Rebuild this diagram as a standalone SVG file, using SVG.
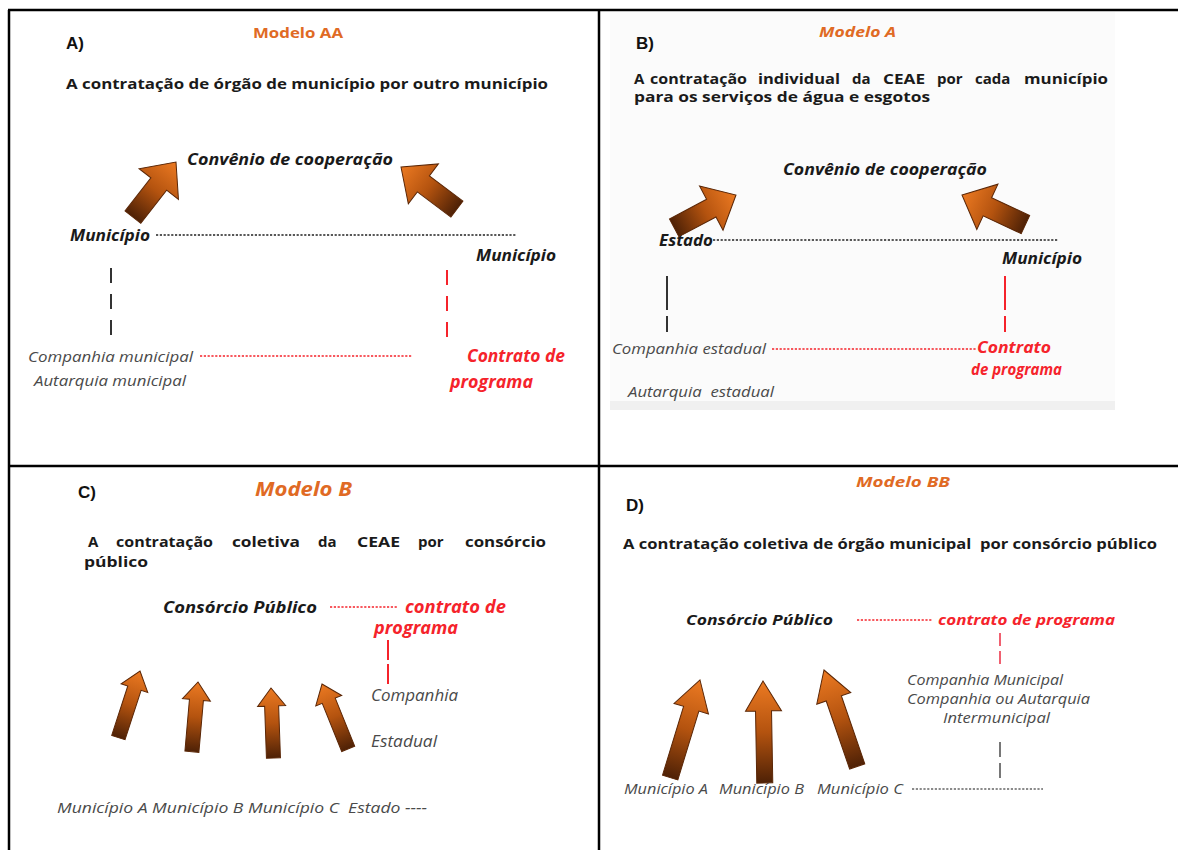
<svg xmlns="http://www.w3.org/2000/svg" xmlns:xlink="http://www.w3.org/1999/xlink" width="1178" height="850" viewBox="0 0 1178 850">
<defs>
<linearGradient id="ag" x1="0" y1="0" x2="0" y2="1">
<stop offset="0" stop-color="#ec7a22"/>
<stop offset="0.5" stop-color="#b4530f"/>
<stop offset="1" stop-color="#4e2106"/>
</linearGradient>
<path id="arrBig" d="M0,0 L25,28 L10,28 L10,70 L-10,70 L-10,28 L-25,28 Z"/>
<path id="arrC" d="M0,0 L14,18 L7,18 L7,70 L-7,70 L-7,18 L-14,18 Z"/>
<path id="arrD" d="M0,0 L18,30 L8,30 L8,102 L-8,102 L-8,30 L-18,30 Z"/>
</defs>
<style>
text{font-family:"Open Sans","DejaVu Sans",sans-serif}
.arr{fill:url(#ag);stroke:#5a2606;stroke-width:1}
.lbl{font-family:"Liberation Sans",Arial,sans-serif;font-weight:bold;fill:#111;font-size:17px}
.ttl{font-weight:bold;fill:#1a1a1a}
.mod{font-weight:bold;font-style:italic;fill:#e06a24}
.bi{font-weight:bold;font-style:italic;fill:#1a1a1a}
.gi{font-style:italic;fill:#4a4a4a}
.ri{font-weight:bold;font-style:italic;fill:#f5232b}
.dotk{stroke:#222;stroke-width:1.6;stroke-dasharray:2.2 1.6;fill:none}
.dotr{stroke:#f5232b;stroke-width:1.6;stroke-dasharray:2.2 1.6;fill:none}
.dotg{stroke:#666;stroke-width:1.4;stroke-dasharray:2.2 1.6;fill:none}
.vk{stroke:#333;stroke-width:2;fill:none}
.vr{stroke:#f5232b;stroke-width:2;fill:none}
.vg{stroke:#777;stroke-width:2;fill:none}
.frame{stroke:#000;stroke-width:2.5;fill:none}
</style>
<rect width="1178" height="850" fill="#fff"/>
<rect x="610" y="12" width="505" height="398" fill="#fbfbfb"/>
<rect x="610" y="401" width="505" height="9" fill="#f0f0f0"/>
<g id="frame">
<line class="frame" x1="8" y1="10" x2="1178" y2="10"/>
<line class="frame" x1="9" y1="10" x2="9" y2="850"/>
<line class="frame" x1="599" y1="10" x2="599" y2="850"/>
<line class="frame" x1="8" y1="466" x2="1178" y2="466"/>
</g>

<!-- Panel A -->
<g id="panelA-head">
<text class="lbl" x="66" y="49">A)</text>
<text class="mod" x="253" y="38" style="font-size:15px;font-style:normal" textLength="90" lengthAdjust="spacingAndGlyphs">Modelo AA</text>
<text class="ttl" x="66" y="89" style="font-size:15px" textLength="482" lengthAdjust="spacingAndGlyphs">A contratação de órgão de município por outro município</text>
</g>
<g id="A-convenio"><text class="bi" x="187" y="165" style="font-size:16px" textLength="206" lengthAdjust="spacingAndGlyphs">Convênio de cooperação</text></g>
<g id="A-municipio1"><text class="bi" x="70" y="241" style="font-size:16px" textLength="80" lengthAdjust="spacingAndGlyphs">Município</text></g>
<g id="A-municipio2"><text class="bi" x="476" y="261" style="font-size:16px" textLength="80" lengthAdjust="spacingAndGlyphs">Município</text></g>
<g id="A-companhia"><text class="gi" x="28" y="362" style="font-size:15px" textLength="165" lengthAdjust="spacingAndGlyphs">Companhia municipal</text>
<text class="gi" x="34" y="386" style="font-size:15px" textLength="152" lengthAdjust="spacingAndGlyphs">Autarquia municipal</text></g>
<g id="A-contrato"><text class="ri" x="467" y="362" style="font-size:17px" textLength="98" lengthAdjust="spacingAndGlyphs">Contrato de</text>
<text class="ri" x="450" y="388" style="font-size:17px" textLength="83" lengthAdjust="spacingAndGlyphs">programa</text></g>
<g id="A-arrows">
<use href="#arrBig" class="arr" transform="translate(176,162) rotate(38)"/>
<use href="#arrBig" class="arr" transform="translate(401,167) rotate(-53)"/>
</g>
<g id="A-connectors">
<line class="dotk" x1="156" y1="235" x2="517" y2="235"/>
<line class="vk" x1="111" y1="268" x2="111" y2="340" stroke-dasharray="15 11"/>
<line class="vr" x1="447" y1="270" x2="447" y2="340" stroke-dasharray="15 11"/>
<line class="dotr" x1="200" y1="356" x2="412" y2="356"/>
</g>

<!-- Panel B -->
<g id="panelB-head">
<text class="lbl" x="636" y="49">B)</text>
<text class="mod" x="819" y="37" style="font-size:15px" textLength="77" lengthAdjust="spacingAndGlyphs">Modelo A</text>
<text class="ttl" y="84" style="font-size:15px"><tspan x="634">A</tspan><tspan x="650" textLength="97" lengthAdjust="spacingAndGlyphs">contratação</tspan><tspan x="758" textLength="82" lengthAdjust="spacingAndGlyphs">individual</tspan><tspan x="852">da</tspan><tspan x="883" textLength="42" lengthAdjust="spacingAndGlyphs">CEAE</tspan><tspan x="937">por</tspan><tspan x="975">cada</tspan><tspan x="1024" textLength="84" lengthAdjust="spacingAndGlyphs">município</tspan></text>
<text class="ttl" x="634" y="102" style="font-size:15px" textLength="296" lengthAdjust="spacingAndGlyphs">para os serviços de água e esgotos</text>
</g>
<g id="B-convenio"><text class="bi" x="783" y="175" style="font-size:16px" textLength="204" lengthAdjust="spacingAndGlyphs">Convênio de cooperação</text></g>
<g id="B-estado"><text class="bi" x="659" y="246" style="font-size:16px" textLength="54" lengthAdjust="spacingAndGlyphs">Estado</text></g>
<g id="B-municipio"><text class="bi" x="1002" y="264" style="font-size:16px" textLength="80" lengthAdjust="spacingAndGlyphs">Município</text></g>
<g id="B-companhia"><text class="gi" x="612" y="354" style="font-size:15px" textLength="154" lengthAdjust="spacingAndGlyphs">Companhia estadual</text>
<text class="gi" x="628" y="397" style="font-size:15px" textLength="146" lengthAdjust="spacingAndGlyphs" xml:space="preserve">Autarquia  estadual</text></g>
<g id="B-contrato"><text class="ri" x="977" y="353" style="font-size:16px" textLength="74" lengthAdjust="spacingAndGlyphs">Contrato</text>
<text class="ri" x="971" y="375" style="font-size:16px" textLength="91" lengthAdjust="spacingAndGlyphs">de programa</text></g>
<g id="B-arrows">
<use href="#arrBig" class="arr" transform="translate(736,195) rotate(62)"/>
<use href="#arrBig" class="arr" transform="translate(962,195) rotate(-65)"/>
</g>
<g id="B-connectors">
<line class="dotk" x1="713" y1="240" x2="1058" y2="240"/>
<line class="vk" x1="667" y1="276" x2="667" y2="332" stroke-dasharray="34 6"/>
<line class="vr" x1="1005" y1="276" x2="1005" y2="332" stroke-dasharray="34 6"/>
<line class="dotr" x1="772" y1="349" x2="976" y2="349"/>
</g>

<!-- Panel C -->
<g id="panelC-head">
<text class="lbl" x="78" y="498">C)</text>
<text class="mod" x="255" y="496" style="font-size:19px" textLength="97" lengthAdjust="spacingAndGlyphs">Modelo B</text>
<text class="ttl" y="547" style="font-size:15px"><tspan x="88">A</tspan><tspan x="116" textLength="97" lengthAdjust="spacingAndGlyphs">contratação</tspan><tspan x="232" textLength="68" lengthAdjust="spacingAndGlyphs">coletiva</tspan><tspan x="318">da</tspan><tspan x="357" textLength="43" lengthAdjust="spacingAndGlyphs">CEAE</tspan><tspan x="418">por</tspan><tspan x="465" textLength="81" lengthAdjust="spacingAndGlyphs">consórcio</tspan></text>
<text class="ttl" x="84" y="567" style="font-size:15px" textLength="64" lengthAdjust="spacingAndGlyphs">público</text>
</g>
<g id="C-consorcio"><text class="bi" x="163" y="613" style="font-size:16px" textLength="154" lengthAdjust="spacingAndGlyphs">Consórcio Público</text></g>
<g id="C-contrato"><text class="ri" x="405" y="613" style="font-size:17px" textLength="101" lengthAdjust="spacingAndGlyphs">contrato de</text>
<text class="ri" x="374" y="634" style="font-size:17px" textLength="84" lengthAdjust="spacingAndGlyphs">programa</text></g>
<g id="C-companhia"><text class="gi" x="371" y="701" style="font-size:16px" textLength="87" lengthAdjust="spacingAndGlyphs">Companhia</text>
<text class="gi" x="371" y="747" style="font-size:16px" textLength="66" lengthAdjust="spacingAndGlyphs">Estadual</text></g>
<g id="C-municipios"><text class="gi" x="57" y="813" style="font-size:15px" textLength="370" lengthAdjust="spacingAndGlyphs" xml:space="preserve">Município A Município B Município C  Estado ----</text></g>
<g id="C-arrows">
<use href="#arrC" class="arr" transform="translate(140,671) rotate(18)"/>
<use href="#arrC" class="arr" transform="translate(198,682) rotate(5)"/>
<use href="#arrC" class="arr" transform="translate(271,688) rotate(-2)"/>
<use href="#arrC" class="arr" transform="translate(322,684) rotate(-22)"/>
</g>
<g id="C-connectors">
<line class="dotr" x1="330" y1="607" x2="398" y2="607"/>
<line class="vr" x1="388" y1="640" x2="388" y2="684" stroke-dasharray="20 4"/>
</g>

<!-- Panel D -->
<g id="panelD-head">
<text class="lbl" x="626" y="511">D)</text>
<text class="mod" x="856" y="487" style="font-size:15px" textLength="94" lengthAdjust="spacingAndGlyphs">Modelo BB</text>
<text class="ttl" x="623" y="549" style="font-size:14px" textLength="534" lengthAdjust="spacingAndGlyphs" xml:space="preserve">A contratação coletiva de órgão municipal  por consórcio público</text>
</g>
<g id="D-consorcio"><text class="bi" x="686" y="625" style="font-size:15px" textLength="147" lengthAdjust="spacingAndGlyphs">Consórcio Público</text></g>
<g id="D-contrato"><text class="ri" x="938" y="625" style="font-size:15px" textLength="177" lengthAdjust="spacingAndGlyphs">contrato de programa</text></g>
<g id="D-companhia">
<text class="gi" x="907" y="685" style="font-size:14px" textLength="156" lengthAdjust="spacingAndGlyphs">Companhia Municipal</text>
<text class="gi" x="907" y="704" style="font-size:14px" textLength="183" lengthAdjust="spacingAndGlyphs">Companhia ou Autarquia</text>
<text class="gi" x="943" y="723" style="font-size:14px" textLength="107" lengthAdjust="spacingAndGlyphs">Intermunicipal</text>
</g>
<g id="D-municipios">
<text class="gi" x="624" y="794" style="font-size:14px" textLength="84" lengthAdjust="spacingAndGlyphs">Município A</text>
<text class="gi" x="719" y="794" style="font-size:14px" textLength="85" lengthAdjust="spacingAndGlyphs">Município B</text>
<text class="gi" x="817" y="794" style="font-size:14px" textLength="86" lengthAdjust="spacingAndGlyphs">Município C</text>
</g>
<g id="D-arrows">
<use href="#arrD" class="arr" transform="translate(700,680) rotate(17)"/>
<use href="#arrD" class="arr" transform="translate(763,681) rotate(-1)"/>
<use href="#arrD" class="arr" transform="translate(824,670) rotate(-19)"/>
</g>
<g id="D-connectors">
<line class="dotr" x1="857" y1="620" x2="933" y2="620"/>
<line x1="1000" y1="633" x2="1000" y2="665" stroke="#f06070" stroke-width="2" stroke-dasharray="13 5"/>
<line class="vg" x1="1000" y1="742" x2="1000" y2="778" stroke-dasharray="15 6"/>
<line class="dotg" x1="912" y1="789" x2="1043" y2="789"/>
</g>
</svg>
